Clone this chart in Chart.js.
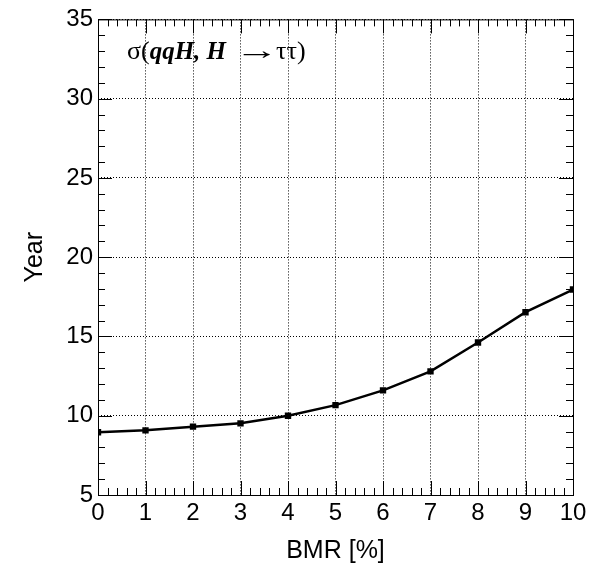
<!DOCTYPE html>
<html>
<head>
<meta charset="utf-8">
<script src="https://cdn.jsdelivr.net/npm/chart.js@4.4.1/dist/chart.umd.min.js"></script>
<style>
  body { margin: 0; background: #fff; }
  #wrap { width: 600px; height: 572px; }
</style>
</head>
<body>
<div id="wrap"><canvas id="bmrChart"></canvas></div>
<script>
// values
const bmr = [0, 1, 2, 3, 4, 5, 6, 7, 8, 9, 10];
const years = [8.96, 9.08, 9.31, 9.52, 10.0, 10.67, 11.6, 12.8, 14.62, 16.53, 17.96];
const xRange = [0, 10];
const yRange = [5, 35];

const tickFont = { family: 'Liberation Sans, Arial, sans-serif', size: 24 };

// ROOT-style frame with inward ticks and the annotation text
const rootFrame = {
    id: 'rootFrame',
    afterDraw(chart) {
        const ctx = chart.ctx;
        const a = chart.chartArea;
        const xs = chart.scales.x, ys = chart.scales.y;
        ctx.save();
        ctx.strokeStyle = '#000';
        ctx.lineWidth = 1;
        ctx.strokeRect(a.left + 0.5, a.top + 0.5, a.right - a.left, a.bottom - a.top);

        ctx.beginPath();
        // x ticks: major every 1, minor every 0.2
        for (let i = 0; i <= 50; i++) {
            const v = xRange[0] + i * 0.2;
            const px = Math.round(xs.getPixelForValue(v)) + 0.5;
            const len = (i % 5 === 0) ? 14 : 7;
            ctx.moveTo(px, a.bottom); ctx.lineTo(px, a.bottom - len);
            ctx.moveTo(px, a.top); ctx.lineTo(px, a.top + len);
        }
        // y ticks: major every 5, minor every 1
        for (let v = yRange[0]; v <= yRange[1]; v++) {
            const py = Math.round(ys.getPixelForValue(v)) + 0.5;
            const len = (v % 5 === 0) ? 14 : 7;
            ctx.moveTo(a.left, py); ctx.lineTo(a.left + len, py);
            ctx.moveTo(a.right, py); ctx.lineTo(a.right - len, py);
        }
        ctx.stroke();

        // annotation
        ctx.fillStyle = '#000';
        ctx.textBaseline = 'alphabetic';
        const serif = '"Liberation Serif", "Times New Roman", serif';
        ctx.font = '26px ' + serif;
        let x = 127;
        const base = 59;
        ctx.fillText('σ(', x, base);
        x += ctx.measureText('σ(').width;
        ctx.font = 'italic bold 25px ' + serif;
        ctx.fillText('qqH, H', x, base);
        // long arrow
        ctx.font = '26px ' + serif;
        ctx.save();
        ctx.translate(235, base);
        ctx.scale(1.7, 1);
        ctx.fillText('\u2192', 0, 0);
        ctx.restore();
        ctx.fillText('ττ)', 276, base);
        ctx.restore();
    }
};

const ctx = document.getElementById('bmrChart').getContext('2d');
const chart = new Chart(ctx, {
    type: 'line',
    data: {
        datasets: [{
            label: 'Year',
            data: bmr.map((b, i) => ({ x: b, y: years[i] })),
            borderColor: '#000',
            backgroundColor: '#000',
            borderWidth: 2.5,
            pointStyle: 'rect',
            pointRadius: 4.5,
            pointBorderWidth: 0,
            fill: false,
            tension: 0
        }]
    },
    options: {
        responsive: true,
        maintainAspectRatio: false,
        animation: false,
        layout: { padding: { top: 18, right: 27, left: 0, bottom: 0 } },
        plugins: { legend: { display: false }, tooltip: { enabled: false } },
        scales: {
            x: {
                type: 'linear',
                min: xRange[0],
                max: xRange[1],
                afterFit: s => { s.height = 77; },
                ticks: { stepSize: 1, color: '#000', font: tickFont, padding: 4, maxRotation: 0 },
                grid: { color: '#000', lineWidth: 1, drawTicks: false },
                border: { display: false, dash: [1, 2] },
                title: {
                    display: true, text: 'BMR [%]', color: '#000',
                    font: { family: 'Liberation Sans, Arial, sans-serif', size: 25 },
                    padding: { top: 0, bottom: 6 }
                }
            },
            y: {
                min: yRange[0],
                max: yRange[1],
                afterFit: s => { s.width = 98; },
                ticks: { stepSize: 5, color: '#000', font: tickFont, padding: 5 },
                grid: { color: '#000', lineWidth: 1, drawTicks: false },
                border: { display: false, dash: [1, 2] },
                title: {
                    display: true, text: 'Year', color: '#000',
                    font: { family: 'Liberation Sans, Arial, sans-serif', size: 25 },
                    padding: { top: 20, bottom: 0 }
                }
            }
        }
    },
    plugins: [rootFrame]
});
</script>
</body>
</html>
